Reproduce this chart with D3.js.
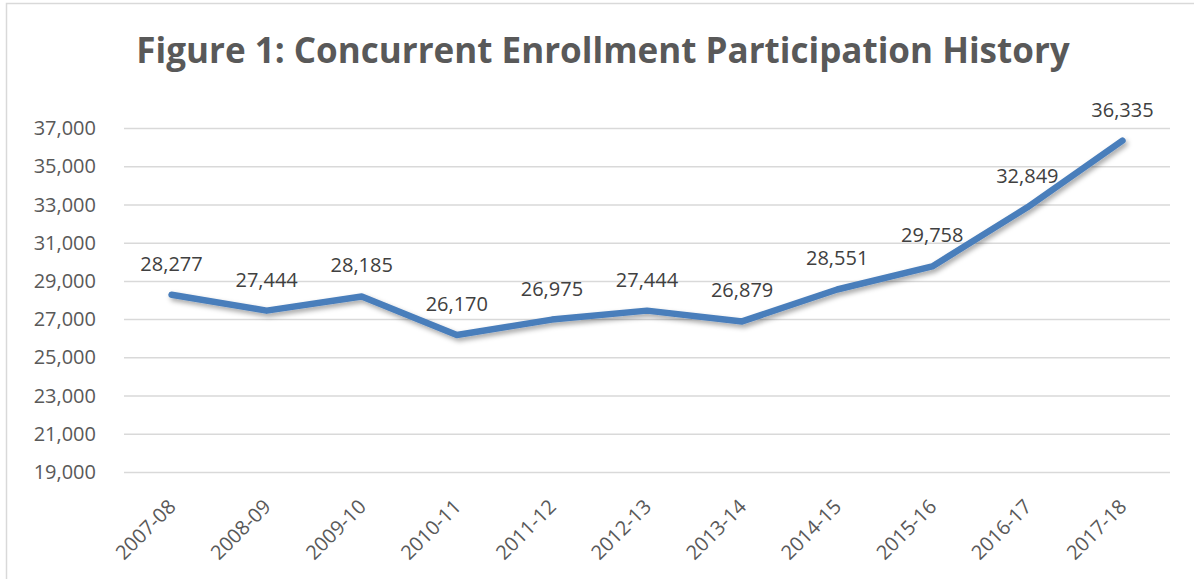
<!DOCTYPE html>
<html lang="en">
<head>
    <meta charset="UTF-8">
    <title>Concurrent Enrollment Participation History</title>
    <style>
        body { margin: 0; background: #fff; }
        text { font-family: "Open Sans", "Noto Sans", sans-serif; }
    </style>
</head>
<body>
    <div id="chart"></div>

    <script src="https://d3js.org/d3.v7.min.js"></script>
    <script>
        // Chart data
        var years = ["2007-08", "2008-09", "2009-10", "2010-11", "2011-12", "2012-13",
                     "2013-14", "2014-15", "2015-16", "2016-17", "2017-18"];
        var enrollment = [28277, 27444, 28185, 26170, 26975, 27444, 26879, 28551, 29758, 32849, 36335];
        var yTicks = [19000, 21000, 23000, 25000, 27000, 29000, 31000, 33000, 35000, 37000];
        var titleText = "Figure 1: Concurrent Enrollment Participation History";

        var width = 1194, height = 579;
        var plot = { left: 124, right: 1170, top: 128, bottom: 472 };

        var svg = d3.select("#chart").append("svg")
            .attr("width", width)
            .attr("height", height);

        // Drop shadow for the line.
        var defs = svg.append("defs");
        var shadow = defs.append("filter")
            .attr("id", "shadow")
            .attr("x", "-10%").attr("y", "-20%")
            .attr("width", "120%").attr("height", "140%");
        shadow.append("feDropShadow")
            .attr("dx", 2).attr("dy", 3)
            .attr("stdDeviation", 2.5)
            .attr("flood-color", "#000")
            .attr("flood-opacity", 0.35);

        // Chart frame
        svg.append("rect")
            .attr("x", 6.5).attr("y", 3.5)
            .attr("width", width + 20).attr("height", height + 20)
            .attr("fill", "none")
            .attr("stroke", "#d9d9d9")
            .attr("stroke-width", 1.5);

        var x = d3.scalePoint()
            .domain(years)
            .range([plot.left, plot.right])
            .padding(0.5);

        var y = d3.scaleLinear()
            .domain([19000, 37000])
            .range([plot.bottom, plot.top]);

        var fmt = d3.format(",");

        // Y axis with gridlines
        var yAxis = d3.axisLeft(y)
            .tickValues(yTicks)
            .tickFormat(fmt)
            .tickSizeInner(-(plot.right - plot.left))
            .tickSizeOuter(0)
            .tickPadding(28);

        var yAxisGroup = svg.append("g")
            .attr("class", "y-axis")
            .attr("transform", "translate(" + plot.left + ",0)")
            .call(yAxis);
        yAxisGroup.select(".domain").remove();
        yAxisGroup.selectAll(".tick line")
            .attr("stroke", "#d9d9d9")
            .attr("stroke-width", 1.5);
        yAxisGroup.selectAll(".tick text")
            .attr("fill", "#595959")
            .attr("font-size", 20)
            .attr("font-family", "'Open Sans', sans-serif")
            .attr("dy", "0.33em");

        // X axis labels, rotated
        var xAxis = d3.axisBottom(x).tickSize(0).tickPadding(0);
        var xAxisGroup = svg.append("g")
            .attr("class", "x-axis")
            .attr("transform", "translate(0," + plot.bottom + ")")
            .call(xAxis);
        xAxisGroup.select(".domain").remove();
        xAxisGroup.selectAll(".tick text")
            .attr("fill", "#595959")
            .attr("font-size", 20)
            .attr("font-family", "'Open Sans', sans-serif")
            .attr("text-anchor", "end")
            .attr("x", 0).attr("y", 0).attr("dy", 0)
            .attr("transform", "translate(5,36) rotate(-45)");

        // Line
        var line = d3.line()
            .x(function(d, i) { return x(years[i]); })
            .y(function(d) { return y(d); });

        svg.append("path")
            .datum(enrollment)
            .attr("d", line)
            .attr("fill", "none")
            .attr("stroke", "#4a7ebb")
            .attr("stroke-width", 6.5)
            .attr("stroke-linecap", "round")
            .attr("stroke-linejoin", "round")
            .attr("filter", "url(#shadow)");

        // Data labels
        svg.append("g")
            .attr("class", "labels")
            .selectAll("text")
            .data(enrollment)
            .enter()
            .append("text")
            .attr("x", function(d, i) { return x(years[i]); })
            .attr("y", function(d) { return y(d) - 24; })
            .attr("text-anchor", "middle")
            .attr("fill", "#404040")
            .attr("font-size", 20)
            .text(function(d) { return fmt(d); });

        // Title, sized to span the same width as the original
        var title = svg.append("text")
            .attr("x", 603)
            .attr("y", 63)
            .attr("text-anchor", "middle")
            .attr("fill", "#595959")
            .attr("font-weight", "bold")
            .attr("font-size", 36)
            .text(titleText);
        var tw = title.node().getComputedTextLength();
        title.attr("font-size", 36 * 934 / tw);
    </script>
</body>
</html>
